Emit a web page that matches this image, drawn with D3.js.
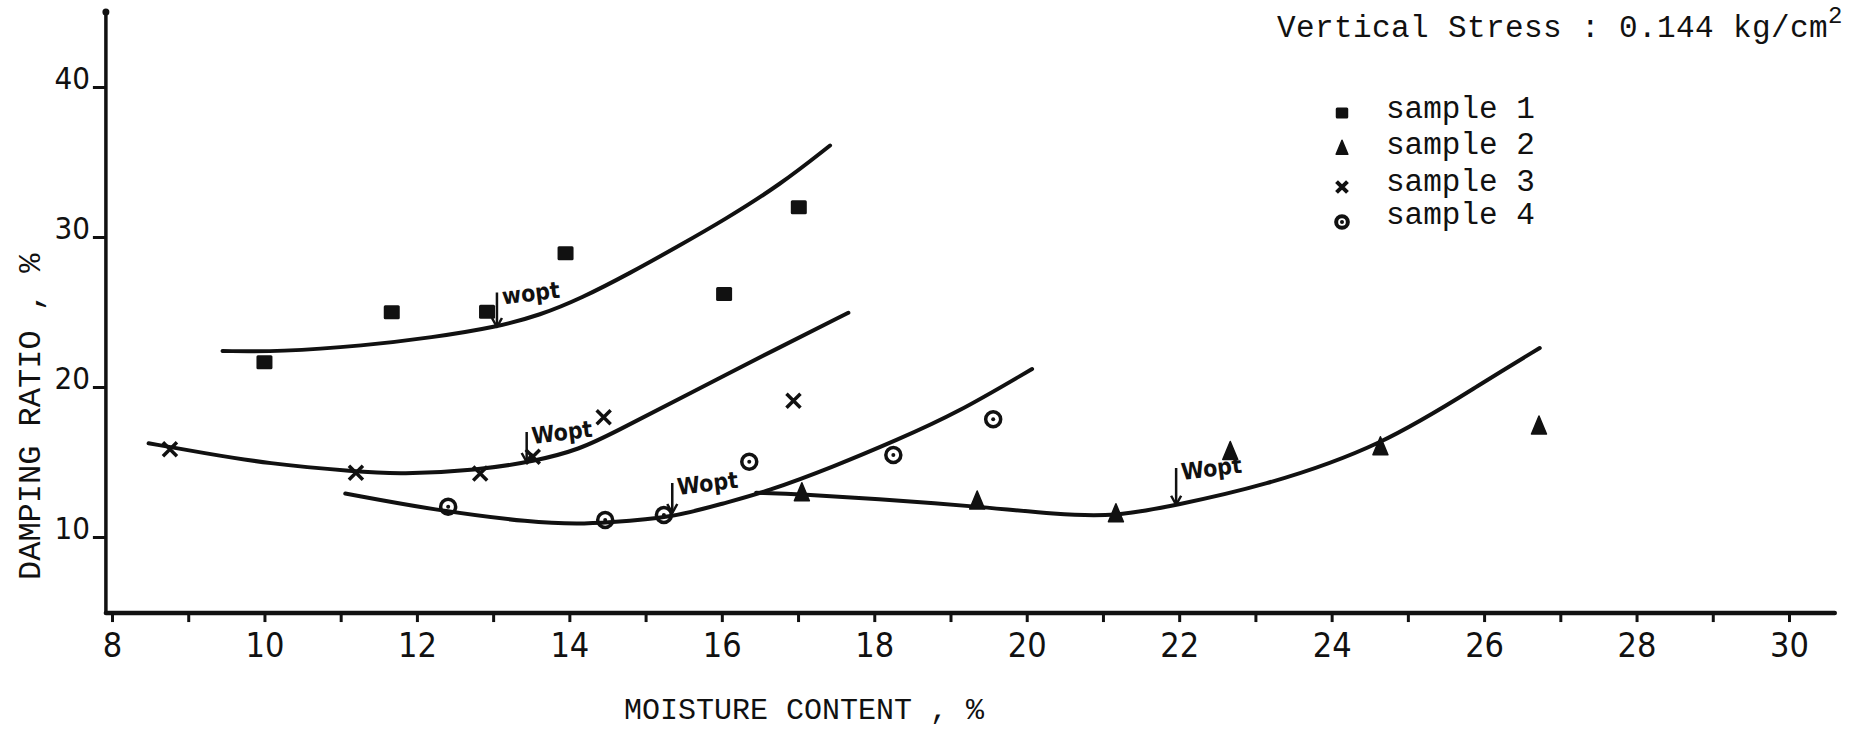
<!DOCTYPE html>
<html>
<head>
<meta charset="utf-8">
<script src="https://cdn.jsdelivr.net/npm/d3@7"></script>
<style>
  html, body { margin: 0; padding: 0; background: #fff; }
  svg { display: block; }
</style>
</head>
<body>
<svg id="chart" width="1851" height="731"></svg>
<script>
// ---------------- DATA ----------------
const xMajorTicks = [8, 10, 12, 14, 16, 18, 20, 22, 24, 26, 28, 30];
const xMinorTicks = [9, 11, 13, 15, 17, 19, 21, 23, 25, 27, 29];
const yTicks = [10, 20, 30, 40];

const legendLabels = ["sample 1", "sample 2", "sample 3", "sample 4"];

const sample1X = [10.0, 11.67, 12.92, 13.95, 16.03, 17.01];
const sample1Y = [21.65, 24.98, 25.02, 28.91, 26.2, 31.98];
const sample2X = [17.05, 19.35, 21.17, 22.67, 24.64, 26.72];
const sample2Y = [12.95, 12.4, 11.55, 15.7, 16.02, 17.4];
const sample3X = [8.76, 11.2, 12.83, 13.52, 14.45, 16.94];
const sample3Y = [15.85, 14.29, 14.24, 15.35, 17.98, 19.09];
const sample4X = [12.41, 14.47, 15.24, 16.36, 18.25, 19.56];
const sample4Y = [12.02, 11.13, 11.47, 15.02, 15.47, 17.85];

// hand-drawn fitted curves
const fit1X = [9.45, 10.2, 11.3, 12.2, 13.05, 13.62, 14.15, 14.8, 15.45, 16.02, 16.77, 17.42];
const fit1Y = [22.4, 22.35, 22.75, 23.3, 24.0, 24.8, 25.9, 27.6, 29.45, 31.1, 33.5, 36.1];
const fit2X = [16.45, 17.05, 18.0, 19.33, 20.4, 21.16, 21.96, 23.07, 24.65, 26.03, 26.73];
const fit2Y = [12.95, 12.85, 12.55, 12.05, 11.5, 11.35, 12.13, 13.35, 16.0, 20.45, 22.6];
const fit3X = [8.48, 9.2, 10.03, 11.21, 11.78, 12.79, 13.55, 14.14, 14.58, 15.59, 16.68, 17.66];
const fit3Y = [16.25, 15.6, 14.9, 14.35, 14.18, 14.45, 15.05, 15.85, 16.95, 19.6, 22.45, 24.95];
const fit4X = [11.06, 12.22, 13.53, 14.14, 14.47, 15.37, 16.02, 16.59, 17.47, 18.3, 19.08, 20.07];
const fit4Y = [12.9, 11.8, 10.95, 10.87, 10.95, 11.3, 12.25, 13.02, 14.69, 16.47, 18.25, 21.2];

// W-opt arrows: x, arrow top value, arrow tip value
const woptX = [13.05, 13.44, 15.35, 21.96];
const woptTop = [26.3, 17.0, 13.6, 14.6];
const woptTip = [24.0, 15.0, 11.6, 12.15];
const woptLabels = ["wopt", "Wopt", "Wopt", "Wopt"];

const titleText = "Vertical Stress : 0.144 kg/cm";
const xTitle = "MOISTURE CONTENT , %";
const yTitle = "DAMPING RATIO , %";

// ---------------- CHART ----------------
const svg = d3.select("#chart");
const x = d3.scaleLinear().domain([8, 30]).range([112, 1789]);
const y = d3.scaleLinear().domain([10, 40]).range([537, 87]);
const ink = "#111";

// axes lines
svg.append("line").attr("x1", x(7.92)).attr("x2", x(30.6))
  .attr("y1", y(4.93)).attr("y2", y(4.93))
  .attr("stroke", ink).attr("stroke-width", 4.5).attr("stroke-linecap", "round");
svg.append("line").attr("x1", x(7.92)).attr("x2", x(7.92))
  .attr("y1", y(45)).attr("y2", y(4.93))
  .attr("stroke", ink).attr("stroke-width", 3.5);
svg.append("circle").attr("cx", x(7.92)).attr("cy", y(45)).attr("r", 3.5).attr("fill", ink);

// x axis ticks
const xAxis = d3.axisBottom(x)
  .tickValues(xMajorTicks.concat(xMinorTicks))
  .tickSize(9)
  .tickPadding(8)
  .tickFormat(d => xMajorTicks.includes(d) ? d : "");
const gx = svg.append("g").attr("transform", `translate(0,${y(4.93)})`).call(xAxis);
gx.select(".domain").remove();
gx.selectAll(".tick line").attr("stroke", ink).attr("stroke-width", 3);
gx.selectAll(".tick text")
  .attr("font-family", "'Liberation Sans Narrow', 'DejaVu Sans Condensed', sans-serif")
  .attr("font-size", 34).attr("fill", ink).attr("dy", "0.8em");

// y axis ticks
const yAxis = d3.axisLeft(y).tickValues(yTicks).tickSize(13).tickPadding(3);
const gy = svg.append("g").attr("transform", `translate(${x(7.92)},0)`).call(yAxis);
gy.select(".domain").remove();
gy.selectAll(".tick line").attr("stroke", ink).attr("stroke-width", 3);
gy.selectAll(".tick text")
  .attr("font-family", "'Liberation Sans Narrow', 'DejaVu Sans Condensed', sans-serif")
  .attr("font-size", 31).attr("fill", ink).attr("dy", "0.05em");

// fitted curves
const line = d3.line().x(d => x(d[0])).y(d => y(d[1])).curve(d3.curveBasis);
[[fit1X, fit1Y], [fit2X, fit2Y], [fit3X, fit3Y], [fit4X, fit4Y]].forEach(([xs, ys]) => {
  svg.append("path").datum(xs.map((v, i) => [v, ys[i]]))
    .attr("d", line).attr("fill", "none").attr("stroke", ink)
    .attr("stroke-width", 4).attr("stroke-linecap", "round").attr("stroke-linejoin", "round");
});

// marker drawers
function drawMarker(g, type, cx, cy, s, sw) {
  if (type === 0) {
    g.append("rect").attr("x", cx - 8 * s).attr("y", cy - 7 * s)
      .attr("width", 16 * s).attr("height", 14 * s).attr("rx", 1.5).attr("fill", ink);
  } else if (type === 1) {
    g.append("path").attr("d",
      `M${cx},${cy - 10 * s} L${cx + 7.5 * s},${cy + 8 * s} L${cx - 7.5 * s},${cy + 8 * s} Z`)
      .attr("fill", ink).attr("stroke", ink).attr("stroke-width", 1.5).attr("stroke-linejoin", "round");
  } else if (type === 2) {
    const r = 7 * s;
    g.append("path").attr("d",
      `M${cx - r},${cy - r} L${cx + r},${cy + r} M${cx + r},${cy - r} L${cx - r},${cy + r}`)
      .attr("stroke", ink).attr("stroke-width", sw).attr("fill", "none");
  } else {
    g.append("circle").attr("cx", cx).attr("cy", cy).attr("r", 7.5 * s)
      .attr("fill", "none").attr("stroke", ink).attr("stroke-width", sw);
    g.append("circle").attr("cx", cx).attr("cy", cy).attr("r", 2).attr("fill", ink);
  }
}

const samples = [[sample1X, sample1Y], [sample2X, sample2Y], [sample3X, sample3Y], [sample4X, sample4Y]];
const gm = svg.append("g");
samples.forEach(([xs, ys], k) => {
  xs.forEach((v, i) => drawMarker(gm, k, x(v), y(ys[i]), 1, 3.5));
});

// W-opt arrows
const ga = svg.append("g");
woptX.forEach((v, i) => {
  const px = x(v), top = y(woptTop[i]), tip = y(woptTip[i]);
  ga.append("line").attr("x1", px).attr("x2", px).attr("y1", top).attr("y2", tip)
    .attr("stroke", ink).attr("stroke-width", 2.5);
  ga.append("path").attr("d", `M${px - 5},${tip - 9} L${px},${tip} L${px + 5},${tip - 9}`)
    .attr("fill", "none").attr("stroke", ink).attr("stroke-width", 2.5).attr("stroke-linejoin", "round");
  ga.append("text").attr("x", px + 6).attr("y", top + 12)
    .attr("transform", `rotate(-7,${px + 6},${top + 12})`)
    .attr("font-family", "'Liberation Sans Narrow', 'DejaVu Sans Condensed', sans-serif")
    .attr("font-weight", "bold").attr("font-size", 23).attr("fill", ink)
    .text(woptLabels[i]);
});

// title
const mono = "'Liberation Mono', 'DejaVu Sans Mono', monospace";
const t = svg.append("text").attr("x", 1277).attr("y", 37)
  .attr("font-family", mono).attr("font-size", 31).attr("fill", ink)
  .attr("letter-spacing", 0.4).text(titleText);
t.append("tspan").attr("dy", -14).attr("font-size", 24).text("2");

// legend
const gl = svg.append("g");
const legRowY = [113, 148, 187, 222];
const legTextY = [118, 154, 191, 224];
legendLabels.forEach((lab, k) => {
  drawMarker(gl, k, 1342, legRowY[k], 0.78, 4);
  gl.append("text").attr("x", 1386).attr("y", legTextY[k])
    .attr("font-family", mono).attr("font-size", 31).attr("fill", ink).text(lab);
});

// axis titles
svg.append("text").attr("x", 624).attr("y", 719)
  .attr("font-family", mono).attr("font-size", 30).attr("fill", ink).text(xTitle);
svg.append("text").attr("transform", "translate(40,580) rotate(-90)")
  .attr("font-family", mono).attr("font-size", 32).attr("fill", ink).text(yTitle);
</script>
</body>
</html>
